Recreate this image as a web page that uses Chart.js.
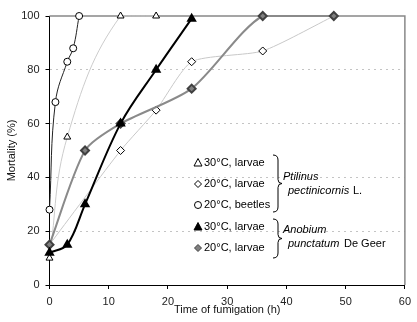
<!DOCTYPE html>
<html>
<head>
<meta charset="utf-8">
<script src="https://cdn.jsdelivr.net/npm/chart.js@4"></script>
<style>
  html, body { margin: 0; padding: 0; background: #fff; }
  #wrap { width: 417px; height: 322px; }
</style>
</head>
<body>
<div id="wrap"><canvas id="myChart" width="417" height="322"></canvas></div>
<script>
// time of fumigation (h) and mortality (%) for each series
const ptil30LarvaeHours = [0, 3, 12, 18];
const ptil30LarvaeMort = [10, 55, 100, 100];

const ptil20LarvaeHours = [0, 12, 18, 24, 36, 48];
const ptil20LarvaeMort = [15, 50, 65, 83, 87, 100];

const ptil20BeetlesHours = [0, 1, 3, 4, 5];
const ptil20BeetlesMort = [28, 68, 83, 88, 100];

const anob30LarvaeHours = [0, 3, 6, 12, 18, 24];
const anob30LarvaeMort = [12, 15, 30, 60, 80, 99];

const anob20LarvaeHours = [0, 6, 12, 24, 36, 48];
const anob20LarvaeMort = [15, 50, 60, 73, 100, 100];

const xTicks = [0, 10, 20, 30, 40, 50, 60];
const yTicks = [0, 20, 40, 60, 80, 100];

const legendLabels = ['30°C, larvae', '20°C, larvae', '20°C, beetles', '30°C, larvae', '20°C, larvae'];

function toPoints(xs, ys) {
  return xs.map((x, i) => ({ x: x, y: ys[i] }));
}

const FONT = '"Liberation Sans", Arial, sans-serif';

function drawMarker(ctx, kind, x, y) {
  ctx.save();
  ctx.lineWidth = 1;
  ctx.strokeStyle = '#000';
  ctx.beginPath();
  if (kind === 'triOpen' || kind === 'triFull') {
    ctx.moveTo(x, y - 4.5);
    ctx.lineTo(x + 4, y + 3);
    ctx.lineTo(x - 4, y + 3);
    ctx.closePath();
    ctx.fillStyle = kind === 'triFull' ? '#000' : '#fff';
  } else if (kind === 'diaOpen' || kind === 'diaGray') {
    ctx.moveTo(x, y - 3.5);
    ctx.lineTo(x + 3.5, y);
    ctx.lineTo(x, y + 3.5);
    ctx.lineTo(x - 3.5, y);
    ctx.closePath();
    ctx.fillStyle = kind === 'diaGray' ? '#808080' : '#fff';
    if (kind === 'diaGray') ctx.strokeStyle = '#404040';
  } else {
    ctx.arc(x, y, 3.5, 0, Math.PI * 2);
    ctx.fillStyle = '#fff';
  }
  ctx.fill();
  ctx.stroke();
  ctx.restore();
}

function drawBrace(ctx, x, y1, y2) {
  const ym = (y1 + y2) / 2;
  ctx.save();
  ctx.strokeStyle = '#000';
  ctx.lineWidth = 1;
  ctx.beginPath();
  ctx.moveTo(x, y1);
  ctx.quadraticCurveTo(x + 5, y1, x + 5, y1 + 5);
  ctx.lineTo(x + 5, ym - 4);
  ctx.quadraticCurveTo(x + 5, ym, x + 9, ym);
  ctx.quadraticCurveTo(x + 5, ym, x + 5, ym + 4);
  ctx.lineTo(x + 5, y2 - 5);
  ctx.quadraticCurveTo(x + 5, y2, x, y2);
  ctx.stroke();
  ctx.restore();
}

const frameAndLegend = {
  id: 'frameAndLegend',
  beforeDatasetsDraw(chart) {
    const { ctx, chartArea } = chart;
    ctx.save();
    ctx.strokeStyle = '#888';
    ctx.lineWidth = 1.5;
    ctx.beginPath();
    ctx.moveTo(chartArea.left, chartArea.top);
    ctx.lineTo(chartArea.right, chartArea.top);
    ctx.lineTo(chartArea.right, chartArea.bottom);
    ctx.stroke();
    ctx.restore();
  },
  afterDatasetsDraw(chart) {
    const { ctx } = chart;
    const kinds = ['triOpen', 'diaOpen', 'circle', 'triFull', 'diaGray'];
    const rows = [163, 184, 205, 227, 248];
    ctx.save();
    ctx.font = '11px ' + FONT;
    ctx.fillStyle = '#000';
    ctx.textBaseline = 'middle';
    kinds.forEach((k, i) => {
      drawMarker(ctx, k, 198, rows[i]);
      ctx.fillText(legendLabels[i], 204, rows[i]);
    });
    drawBrace(ctx, 273, 155, 212);
    drawBrace(ctx, 273, 219, 258);
    ctx.font = 'italic 11px ' + FONT;
    ctx.fillText('Ptilinus', 283, 177);
    ctx.fillText('pectinicornis', 288, 191);
    ctx.fillText('Anobium', 283, 230);
    ctx.fillText('punctatum', 288, 244);
    ctx.font = '11px ' + FONT;
    ctx.fillText('L.', 353, 191);
    ctx.fillText('De Geer', 344, 244);
    ctx.restore();
  }
};

const ctx = document.getElementById('myChart');

new Chart(ctx, {
  type: 'line',
  data: {
    datasets: [
      {
        label: 'Anobium 30°C, larvae',
        data: toPoints(anob30LarvaeHours, anob30LarvaeMort),
        borderColor: '#000',
        borderWidth: 2,
        pointStyle: 'triangle',
        pointRadius: 4,
        pointBackgroundColor: '#000',
        pointBorderColor: '#000',
        tension: 0.35,
        clip: false
      },
      {
        label: 'Anobium 20°C, larvae',
        data: toPoints(anob20LarvaeHours, anob20LarvaeMort),
        borderColor: '#8a8a8a',
        borderWidth: 2,
        pointStyle: 'rectRot',
        pointRadius: 4,
        pointBackgroundColor: '#808080',
        pointBorderColor: '#404040',
        tension: 0.25,
        clip: false
      },
      {
        label: 'Ptilinus 20°C, beetles',
        data: toPoints(ptil20BeetlesHours, ptil20BeetlesMort),
        borderColor: '#222',
        borderWidth: 1,
        pointStyle: 'circle',
        pointRadius: 3.5,
        pointBackgroundColor: '#fff',
        pointBorderColor: '#000',
        tension: 0.4,
        clip: false
      },
      {
        label: 'Ptilinus 20°C, larvae',
        data: toPoints(ptil20LarvaeHours, ptil20LarvaeMort),
        borderColor: '#c8c8c8',
        borderWidth: 1,
        pointStyle: 'rectRot',
        pointRadius: 4,
        pointBackgroundColor: '#fff',
        pointBorderColor: '#000',
        tension: 0.2,
        clip: false
      },
      {
        label: 'Ptilinus 30°C, larvae',
        data: toPoints(ptil30LarvaeHours, ptil30LarvaeMort),
        borderColor: '#cccccc',
        borderWidth: 1,
        pointStyle: 'triangle',
        pointRadius: 4,
        pointBackgroundColor: '#fff',
        pointBorderColor: '#000',
        tension: 0.4,
        clip: false
      }
    ]
  },
  options: {
    responsive: false,
    animation: false,
    layout: { padding: { top: 16, right: 6, left: 0, bottom: 0 } },
    plugins: {
      legend: { display: false },
      tooltip: { enabled: false }
    },
    scales: {
      x: {
        type: 'linear',
        min: 0,
        max: 60,
        afterFit(scale) { scale.height = 37; },
        afterBuildTicks(scale) { scale.ticks = xTicks.map(v => ({ value: v })); },
        grid: { drawOnChartArea: false, tickLength: 4, tickColor: '#000' },
        border: { color: '#000', width: 1 },
        ticks: { color: '#222', font: { family: FONT, size: 11 }, padding: 6, maxRotation: 0 },
        title: {
          display: true,
          text: 'Time of fumigation (h)',
          color: '#111',
          font: { family: FONT, size: 11 },
          padding: { top: 0, bottom: 5 }
        }
      },
      y: {
        min: 0,
        max: 100,
        afterFit(scale) { scale.width = 49.5; },
        afterBuildTicks(scale) { scale.ticks = yTicks.map(v => ({ value: v })); },
        grid: {
          color: c => (c.tick && (c.tick.value === 0 || c.tick.value === 100)) ? 'rgba(0,0,0,0)' : '#c4c4c4',
          tickColor: '#000',
          tickLength: 4,
          tickBorderDash: []
        },
        border: { color: '#000', width: 1, dash: [2, 4] },
        ticks: { color: '#222', font: { family: FONT, size: 11 }, padding: 6 },
        title: {
          display: true,
          text: 'Mortality (%)',
          color: '#111',
          font: { family: FONT, size: 11 },
          padding: { top: 5, bottom: 0 }
        }
      }
    }
  },
  plugins: [frameAndLegend]
});
</script>
</body>
</html>
